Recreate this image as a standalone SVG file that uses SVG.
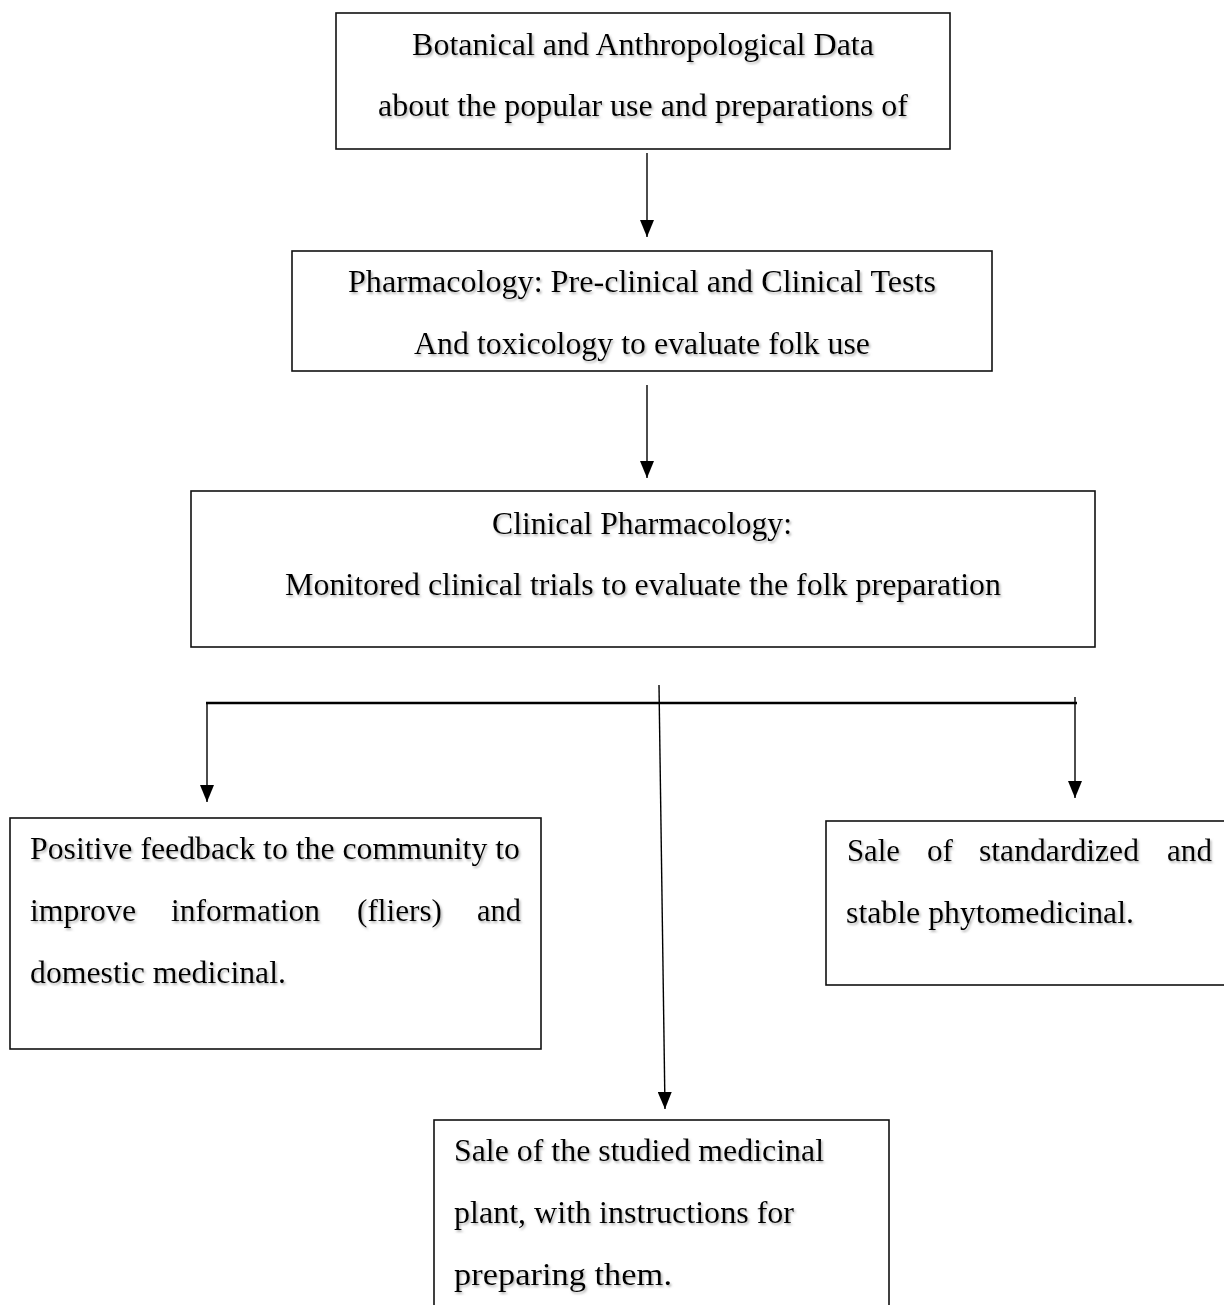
<svg xmlns="http://www.w3.org/2000/svg" width="1224" height="1305" viewBox="0 0 1224 1305">
<style>
.box{fill:#fff;stroke:#111;stroke-width:1.6}
.t{font-family:"Liberation Serif","Times New Roman",serif;font-size:31px;fill:#000;filter:url(#sh)}
.c{text-anchor:middle}
.ln{stroke:#000;stroke-width:1.4;fill:none;marker-end:url(#ah)}
</style>
<defs>
<filter id="sh" x="-5%" y="-20%" width="110%" height="160%">
<feDropShadow dx="1.5" dy="2" stdDeviation="1.2" flood-color="#777" flood-opacity="0.55"/>
</filter>
<marker id="ah" markerUnits="userSpaceOnUse" markerWidth="17" markerHeight="14" refX="17" refY="7" orient="auto" viewBox="0 0 17 14">
<path d="M0,0 L17,7 L0,14 Z" fill="#000"/>
</marker>
</defs>
<rect width="1224" height="1305" fill="#fff"/>
<g id="connectors">
<line class="ln" x1="647" y1="153" x2="647" y2="237"/>
<line class="ln" x1="647" y1="385" x2="647" y2="478"/>
<line class="ln" x1="659" y1="685" x2="665" y2="1109"/>
<line x1="206" y1="703" x2="1077" y2="703" stroke="#000" stroke-width="2.5"/>
<line class="ln" x1="207" y1="703" x2="207" y2="802"/>
<line class="ln" x1="1075" y1="697" x2="1075" y2="798"/>
</g>
<g id="node1">
<rect class="box" x="336" y="13" width="614" height="136"/>
<text class="t c" x="643" y="55" textLength="462" lengthAdjust="spacingAndGlyphs">Botanical and Anthropological Data</text>
<text class="t c" x="643" y="116" textLength="530" lengthAdjust="spacingAndGlyphs">about the popular use and preparations of</text>
</g>
<g id="node2">
<rect class="box" x="292" y="251" width="700" height="120"/>
<text class="t c" x="642" y="292" textLength="588" lengthAdjust="spacingAndGlyphs">Pharmacology: Pre-clinical and Clinical Tests</text>
<text class="t c" x="642" y="354" textLength="456" lengthAdjust="spacingAndGlyphs">And toxicology to evaluate folk use</text>
</g>
<g id="node3">
<rect class="box" x="191" y="491" width="904" height="156"/>
<text class="t c" x="642" y="534" textLength="300" lengthAdjust="spacingAndGlyphs">Clinical Pharmacology:</text>
<text class="t c" x="643" y="595" textLength="716" lengthAdjust="spacingAndGlyphs">Monitored clinical trials to evaluate the folk preparation</text>
</g>
<g id="node4">
<rect class="box" x="10" y="818" width="531" height="231"/>
<text class="t" x="30" y="859" textLength="490" lengthAdjust="spacingAndGlyphs">Positive feedback to the community to</text>
<text class="t" y="921"><tspan x="30" textLength="106" lengthAdjust="spacingAndGlyphs">improve</tspan><tspan x="171" textLength="149" lengthAdjust="spacingAndGlyphs">information</tspan><tspan x="357" textLength="85" lengthAdjust="spacingAndGlyphs">(fliers)</tspan><tspan x="477" textLength="44" lengthAdjust="spacingAndGlyphs">and</tspan></text>
<text class="t" x="30" y="983" textLength="256" lengthAdjust="spacingAndGlyphs">domestic medicinal.</text>
</g>
<g id="node5">
<rect class="box" x="826" y="821" width="410" height="164"/>
<text class="t" y="861"><tspan x="847" textLength="53" lengthAdjust="spacingAndGlyphs">Sale</tspan><tspan x="927" textLength="26" lengthAdjust="spacingAndGlyphs">of</tspan><tspan x="979" textLength="160" lengthAdjust="spacingAndGlyphs">standardized</tspan><tspan x="1167" textLength="45" lengthAdjust="spacingAndGlyphs">and</tspan></text>
<text class="t" x="846" y="923" textLength="288" lengthAdjust="spacingAndGlyphs">stable phytomedicinal.</text>
</g>
<g id="node6">
<rect class="box" x="434" y="1120" width="455" height="200"/>
<text class="t" x="454" y="1161" textLength="370" lengthAdjust="spacingAndGlyphs">Sale of the studied medicinal</text>
<text class="t" x="454" y="1223" textLength="340" lengthAdjust="spacingAndGlyphs">plant, with instructions for</text>
<text class="t" x="454" y="1285" textLength="218" lengthAdjust="spacingAndGlyphs">preparing them.</text>
</g>
</svg>
